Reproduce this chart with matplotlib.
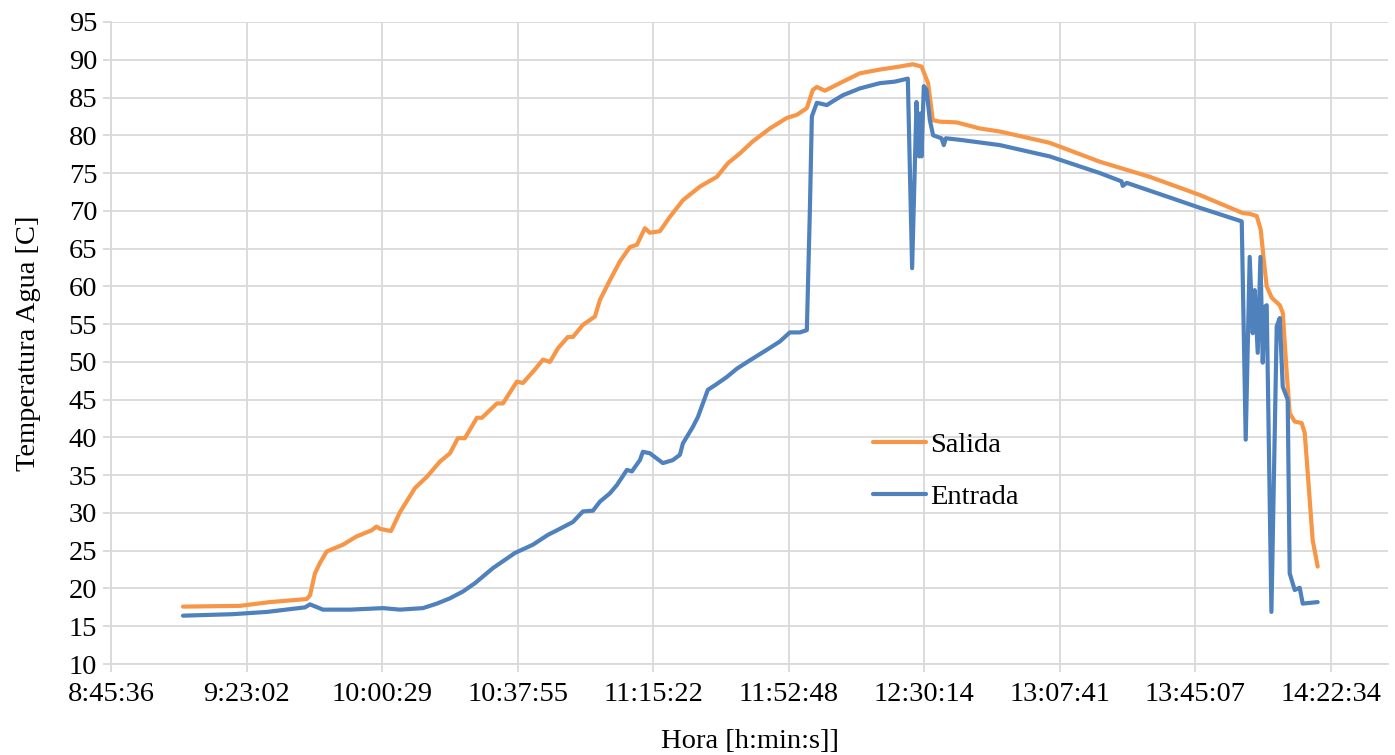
import matplotlib
matplotlib.use("Agg")
import matplotlib.pyplot as plt

plt.rcParams['font.family'] = ['Liberation Serif', 'DejaVu Serif']

# ---- data ----
salida_time = ["9:05:29", "9:21:14", "9:29:31", "9:39:39", "9:40:34", "9:41:56", "9:43:20",
               "9:45:11", "9:49:41", "9:53:28", "9:57:36", "9:58:56", "9:59:54", "10:02:56",
               "10:05:25", "10:09:34", "10:12:53", "10:16:28", "10:19:14", "10:21:26", "10:23:22",
               "10:26:41", "10:28:04", "10:32:13", "10:33:52", "10:37:44", "10:39:23", "10:42:43",
               "10:44:55", "10:46:51", "10:49:04", "10:51:49", "10:53:12", "10:55:58", "10:59:17",
               "11:00:40", "11:03:25", "11:06:11", "11:08:57", "11:10:53", "11:13:05", "11:14:28",
               "11:17:14", "11:20:00", "11:23:35", "11:28:17", "11:32:59", "11:36:01", "11:39:20",
               "11:42:55", "11:47:37", "11:52:19", "11:55:04", "11:57:50", "11:59:29", "12:00:36",
               "12:02:49", "12:06:57", "12:12:28", "12:18:00", "12:23:31", "12:27:07", "12:29:31",
               "12:31:20", "12:32:38", "12:34:34", "12:39:16", "12:45:37", "12:51:08", "13:04:57",
               "13:18:46", "13:32:34", "13:46:23", "13:58:16", "14:00:11", "14:02:08", "14:03:14",
               "14:04:04", "14:04:53", "14:06:16", "14:08:29", "14:09:19", "14:10:25", "14:11:14",
               "14:12:37", "14:14:33", "14:15:23", "14:16:13", "14:17:35", "14:18:58"]
salida_temp = [17.6, 17.7, 18.2, 18.6, 19.1, 22.0, 23.4,
               24.9, 25.8, 26.9, 27.7, 28.2, 27.9, 27.6,
               30.1, 33.3, 34.8, 36.8, 37.9, 39.9, 39.9,
               42.6, 42.6, 44.5, 44.5, 47.4, 47.2, 49.0,
               50.3, 50.0, 51.8, 53.3, 53.3, 54.9, 56.0,
               58.2, 60.8, 63.3, 65.2, 65.5, 67.7, 67.1,
               67.3, 69.2, 71.4, 73.2, 74.5, 76.3, 77.6,
               79.2, 80.9, 82.3, 82.7, 83.6, 86.0, 86.4,
               85.9, 86.9, 88.2, 88.7, 89.1, 89.4, 89.1,
               86.9, 82.0, 81.8, 81.7, 80.9, 80.5, 79.0,
               76.5, 74.5, 72.1, 69.7, 69.6, 69.3, 67.5,
               63.5, 60.0, 58.5, 57.5, 56.5, 48.5, 43.2,
               42.1, 41.9, 40.6, 35.3, 26.4, 22.9]

entrada_time = ["9:05:29", "9:19:18", "9:28:41", "9:39:11", "9:40:34", "9:44:09", "9:51:37",
                "10:00:44", "10:05:25", "10:11:46", "10:15:38", "10:19:14", "10:22:49", "10:26:08",
                "10:31:07", "10:37:11", "10:42:10", "10:46:18", "10:48:47", "10:53:12", "10:55:58",
                "10:58:44", "11:00:40", "11:03:25", "11:05:22", "11:08:07", "11:09:30", "11:11:43",
                "11:12:32", "11:14:28", "11:18:04", "11:20:49", "11:22:46", "11:23:35", "11:26:21",
                "11:27:44", "11:30:29", "11:32:25", "11:35:44", "11:38:30", "11:42:05", "11:46:47",
                "11:50:23", "11:53:08", "11:55:54", "11:57:50", "11:58:40", "11:59:13", "12:00:36",
                "12:03:22", "12:05:01", "12:07:47", "12:12:28", "12:18:00", "12:22:08", "12:25:44",
                "12:26:55", "12:28:08", "12:28:51", "12:29:14", "12:29:31", "12:30:09", "12:30:54",
                "12:31:49", "12:32:43", "12:35:02", "12:35:40", "12:36:14", "12:40:05", "12:51:08",
                "13:04:57", "13:18:46", "13:24:46", "13:25:07", "13:26:13", "13:37:16", "13:46:23",
                "13:57:59", "13:59:05", "14:00:11", "14:01:01", "14:01:34", "14:02:24", "14:03:09",
                "14:03:47", "14:04:20", "14:04:53", "14:06:11", "14:07:39", "14:08:29", "14:09:19",
                "14:10:41", "14:11:14", "14:12:37", "14:14:00", "14:14:50", "14:18:58"]
entrada_temp = [16.4, 16.6, 16.9, 17.5, 17.9, 17.2, 17.2,
                17.4, 17.2, 17.4, 18.0, 18.7, 19.6, 20.7,
                22.7, 24.7, 25.8, 27.1, 27.7, 28.8, 30.2,
                30.3, 31.5, 32.6, 33.7, 35.7, 35.5, 37.0,
                38.1, 37.9, 36.6, 37.0, 37.7, 39.2, 41.4,
                42.7, 46.3, 46.9, 48.0, 49.1, 50.2, 51.6,
                52.7, 53.9, 53.9, 54.2, 70.0, 82.5, 84.3,
                84.0, 84.5, 85.3, 86.2, 86.9, 87.1, 87.5,
                62.4, 84.4, 77.2, 82.9, 77.2, 86.5, 86.0,
                82.0, 80.0, 79.6, 78.7, 79.6, 79.4, 78.7,
                77.2, 75.0, 73.9, 73.3, 73.7, 71.9, 70.4,
                68.6, 39.7, 63.9, 53.8, 59.5, 51.2, 63.9,
                49.9, 57.3, 57.5, 16.9, 54.7, 55.8, 46.7,
                45.0, 22.0, 19.8, 20.1, 18.0, 18.2]

x_tick_labels = ["8:45:36", "9:23:02", "10:00:29", "10:37:55", "11:15:22",
                 "11:52:48", "12:30:14", "13:07:41", "13:45:07", "14:22:34"]
y_ticks = list(range(10, 100, 5))


def to_days(s):
    h, m, sec = (int(v) for v in s.split(":"))
    return (h * 3600 + m * 60 + sec) / 86400.0


xs_sal = [to_days(t) for t in salida_time]
xs_ent = [to_days(t) for t in entrada_time]
x_ticks = [to_days(t) for t in x_tick_labels]

FS = 20.5

fig = plt.figure(figsize=(13.95, 7.55), dpi=100)
ax = fig.add_axes([0.0796, 0.1205, 0.9154, 0.8504])

ax.plot(xs_sal, salida_temp, color="#F79646", lw=3.0, label="Salida",
        solid_joinstyle="round", solid_capstyle="round")
ax.plot(xs_ent, entrada_temp, color="#4F81BD", lw=3.0, label="Entrada",
        solid_joinstyle="round", solid_capstyle="round")

ax.set_xlim(0.365, 0.61)
ax.set_ylim(10, 95)
ax.set_xticks(x_ticks)
ax.set_xticklabels(x_tick_labels)
ax.set_yticks(y_ticks)

ax.grid(True, color="#D9D9D9", lw=1.3)
ax.set_axisbelow(True)
for side in ("top", "right"):
    ax.spines[side].set_visible(False)
for side in ("left", "bottom"):
    ax.spines[side].set_color("#D9D9D9")
    ax.spines[side].set_linewidth(1.3)

ax.tick_params(axis="both", colors="#D9D9D9", labelcolor="black",
               labelsize=FS, length=6, width=1.3, direction="out")
ax.tick_params(axis="x", pad=7)
ax.tick_params(axis="y", pad=4)

ax.set_xlabel("Hora [h:min:s]]", fontsize=FS, labelpad=16)
ax.set_ylabel("Temperatura Agua [C]", fontsize=FS, labelpad=20)

leg = ax.legend(loc="upper left", bbox_to_anchor=(0.577, 0.401), frameon=False,
                fontsize=FS, handlelength=1.85, handletextpad=0.15, labelspacing=0.9)

fig.savefig("out.png", dpi=100)
